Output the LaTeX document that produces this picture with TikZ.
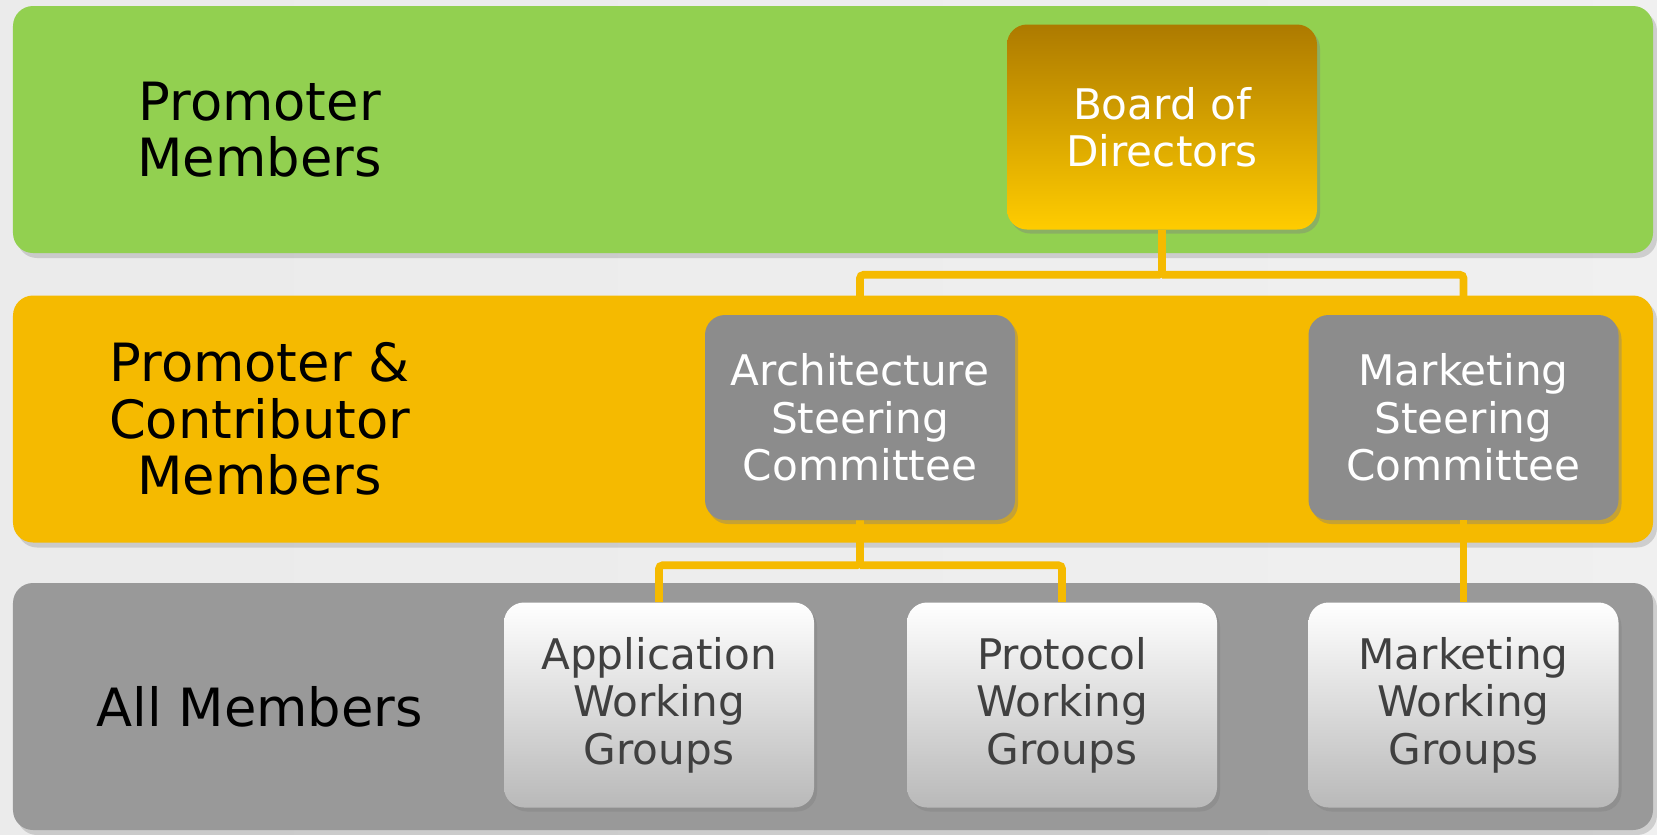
\documentclass[tikz,border=0pt]{standalone}
\usepackage{fontspec}
\setmainfont{DejaVu Sans}
\usetikzlibrary{positioning,calc,shadows}
\definecolor{bandgreen}{HTML}{92D050}
\definecolor{bandorange}{HTML}{F5BA00}
\definecolor{bandgray}{HTML}{999999}
\definecolor{steergray}{HTML}{8C8C8C}
\definecolor{boardtop}{HTML}{AD7A00}
\definecolor{boardbot}{HTML}{FFCC00}
\definecolor{wgtext}{HTML}{404040}

\begin{document}
\begin{tikzpicture}[
        bandbox/.style={rounded corners=0.4cm, minimum width=32.8cm, minimum height=4.94cm, drop shadow={opacity=0.3, shadow xshift=0.08cm, shadow yshift=-0.1cm}},
        unitbox/.style={rounded corners=0.4cm, minimum width=6.2cm, minimum height=4.1cm, align=center, font=\fontsize{24}{27}\selectfont, drop shadow={opacity=0.4, shadow xshift=0.06cm, shadow yshift=-0.08cm}},
        board/.style={unitbox, top color=boardtop, bottom color=boardbot, text=white},
        steer/.style={unitbox, fill=steergray, text=white},
        wg/.style={unitbox, top color=white, bottom color=gray!55, text=wgtext},
        lbl/.style={align=center, font=\fontsize{30}{32}\selectfont},
        link/.style={draw=bandorange, line width=4.4pt, rounded corners=2pt}
    ]

    \useasboundingbox (0,0) rectangle (33.14,-16.68);
    \shade[left color=gray!16, middle color=white, right color=gray!12] (0,0) rectangle (33.14,-16.68);

    % Member bands
    \node[bandbox, fill=bandgreen] (promoter) at (16.66,-2.59) {};
    \node[bandbox, fill=bandorange] (contrib) at (16.66,-8.38) {};
    \node[bandbox, fill=bandgray] (all) at (16.66,-14.13) {};

    \node[lbl] (promoterlbl) at ($(promoter.west) + (4.94,0)$) {Promoter\\Members};
    \node[lbl] (contriblbl) at ($(contrib.west) + (4.94,0)$) {Promoter \&\\Contributor\\Members};
    \node[lbl] (alllbl) at ($(all.west) + (4.94,0)$) {All Members};

    % Boxes
    \node[board] (board) at (23.24,-2.54) {Board of\\Directors};
    \node[steer] (archsc) at (17.2,-8.35) {Architecture\\Steering\\Committee};
    \node[steer] (mktsc) at (29.27,-8.35) {Marketing\\Steering\\Committee};
    \node[wg] (appwg) at (13.18,-14.1) {Application\\Working\\Groups};
    \node[wg] (protowg) at (21.24,-14.1) {Protocol\\Working\\Groups};
    \node[wg] (mktwg) at (29.27,-14.1) {Marketing\\Working\\Groups};

    % Connectors
    \coordinate (bus1) at ($(board.south) + (0,-0.9)$);
    \coordinate (bus2) at ($(archsc.south) + (0,-0.9)$);
    \draw[link] (board.south) -- (bus1) -| (archsc.north);
    \draw[link] (bus1) -| (mktsc.north);
    \draw[link] (archsc.south) -- (bus2) -| (appwg.north);
    \draw[link] (bus2) -| (protowg.north);
    \draw[link] (mktsc.south) -- (mktwg.north);

\end{tikzpicture}
\end{document}
